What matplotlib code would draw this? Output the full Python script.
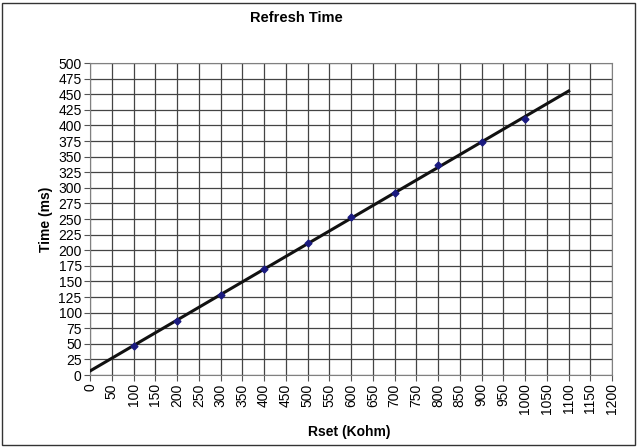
import numpy as np
import matplotlib
matplotlib.use("Agg")
import matplotlib.pyplot as plt
from matplotlib.patches import Rectangle

plt.rcParams['font.family'] = ['Liberation Sans', 'DejaVu Sans']

# Datos
rset = [100, 200, 300, 400, 500, 600, 700, 800, 900, 1000]
tiempo = [47, 86, 129, 170, 211, 253, 291, 337, 373, 411]
x_ticks = list(range(0, 1201, 50))
y_ticks = list(range(0, 501, 25))

fig = plt.figure(figsize=(6.37, 4.47), dpi=100)
ax = fig.add_axes([0.1413, 0.161, 0.8197, 0.698])

# Linea de tendencia (ajuste lineal) de 0 a 1100
m, b = np.polyfit(rset, tiempo, 1)
xt = np.array([0, 1100])
ax.plot(xt, m * xt + b, color='#111111', lw=2.2, zorder=3)
ax.plot(rset, tiempo, 'D', color='#1a1a80', ms=3.5, zorder=4)

ax.set_xlim(0, 1200)
ax.set_ylim(0, 500)
ax.set_xticks(x_ticks)
ax.set_yticks(y_ticks)
ax.set_xticklabels([str(v) for v in x_ticks], rotation=90)
ax.tick_params(labelsize=10, length=4, color='#555555', pad=2)
ax.grid(True, color='#444444', lw=0.9)
ax.set_axisbelow(True)
for s in ax.spines.values():
    s.set_color('#808080')

fig.text(0.465, 0.96, 'Refresh Time', fontsize=10.5, fontweight='bold',
         ha='center', va='center')
fig.text(0.549, 0.034, 'Rset (Kohm)', fontsize=10, fontweight='bold',
         ha='center', va='center')
ax.set_ylabel('Time (ms)', fontsize=10, fontweight='bold', labelpad=4)

fig.patches.append(Rectangle((0.003, 0.004), 0.994, 0.99, transform=fig.transFigure,
                             fill=False, edgecolor='#333333', lw=1))

fig.savefig('out.png', dpi=100)
